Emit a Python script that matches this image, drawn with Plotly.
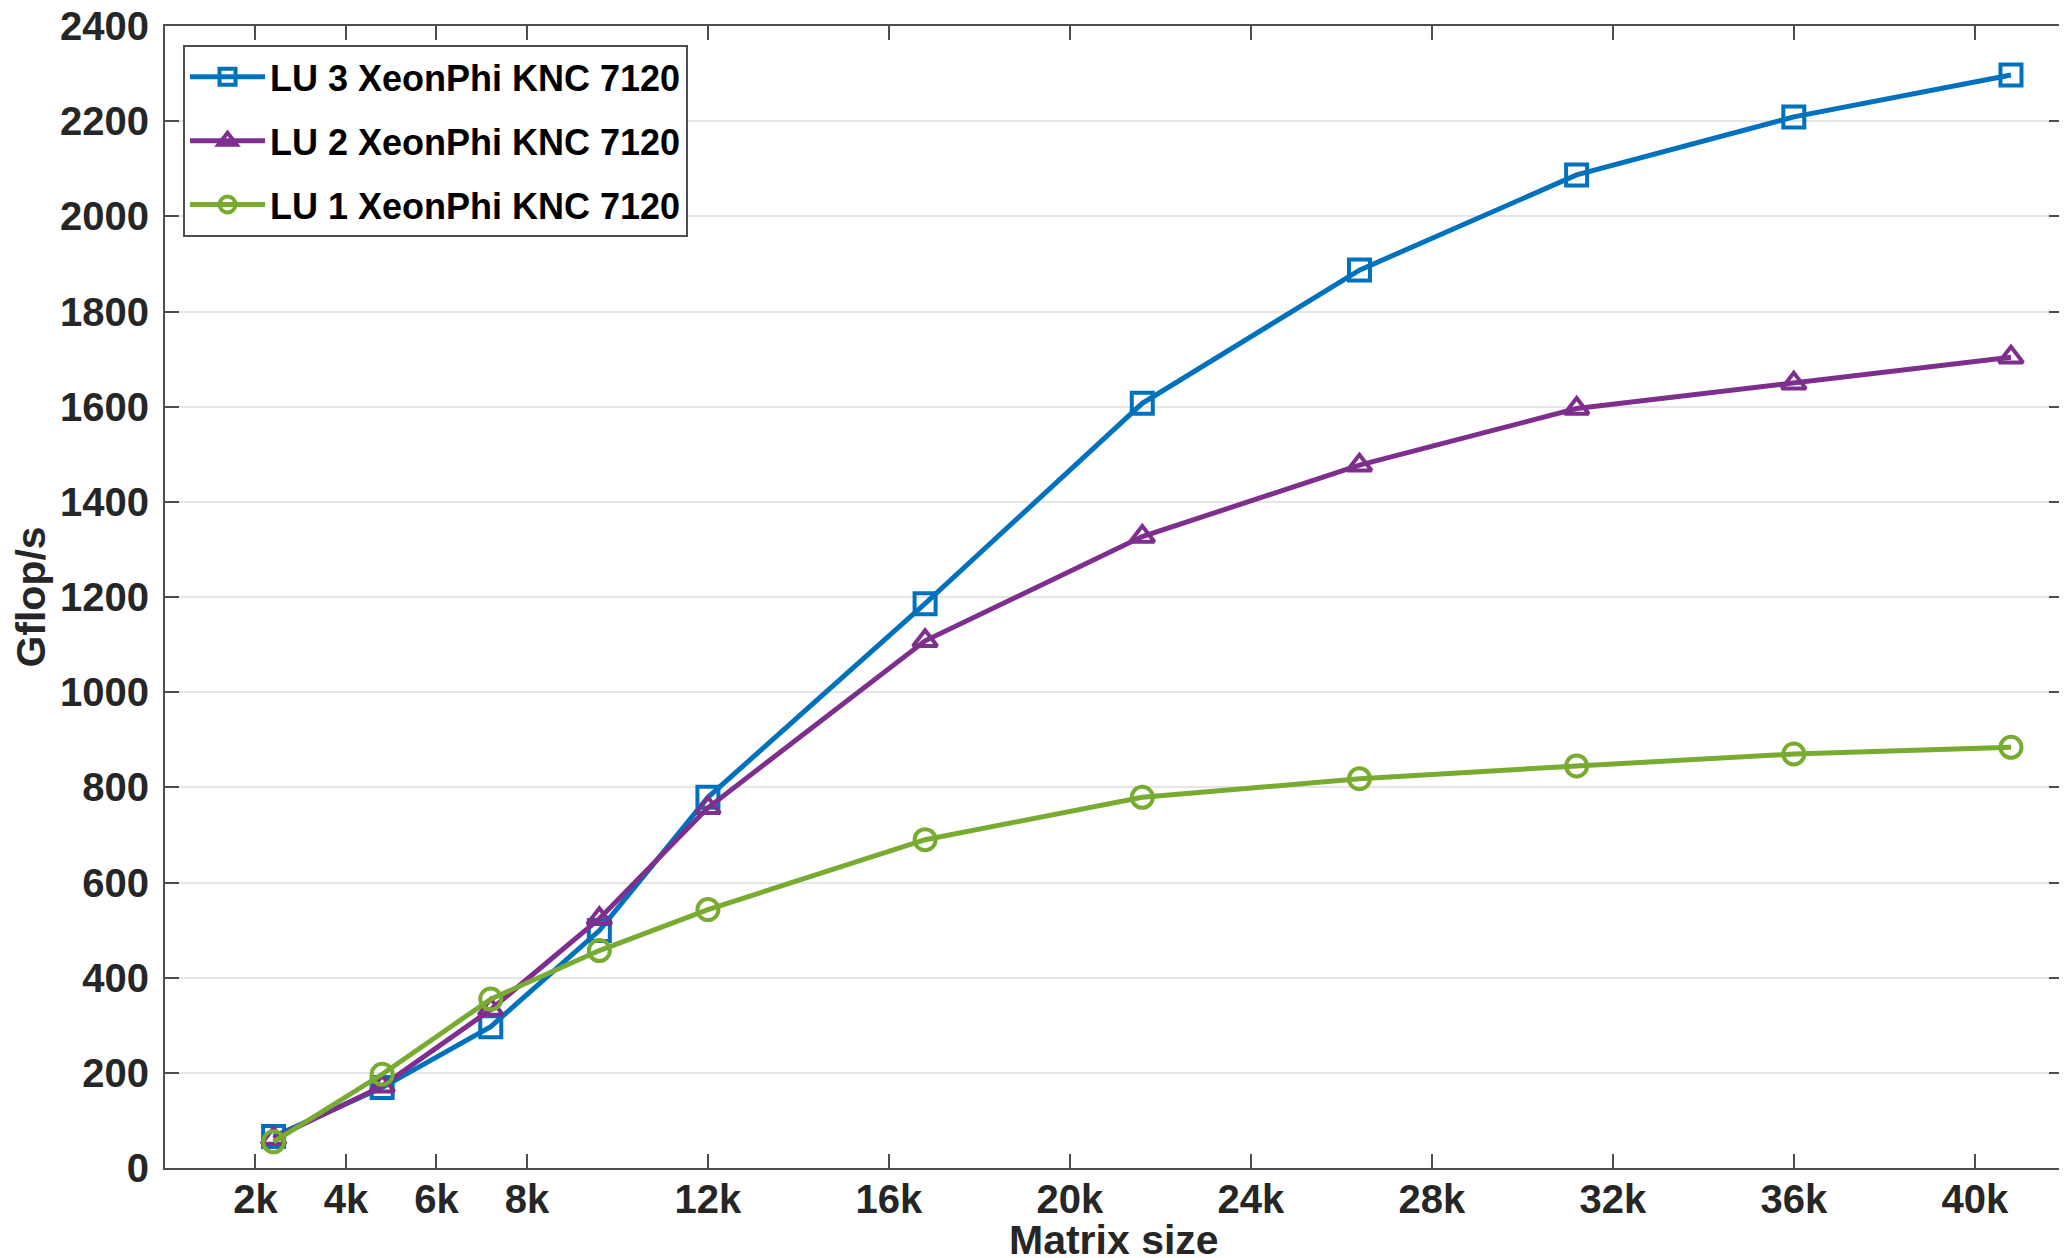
import plotly.graph_objects as go

matrix_size_k = [2.4, 4.8, 7.2, 9.6, 12.0, 16.8, 21.6, 26.4, 31.2, 36.0, 40.8]
lu3 = [66, 169, 297, 499, 779, 1186, 1607, 1887, 2087, 2209, 2297]
lu2 = [62, 172, 333, 524, 757, 1108, 1327, 1477, 1596, 1649, 1704]
lu1 = [55, 197, 355, 457, 543, 690, 779, 818, 845, 870, 884]

x_tick_vals = [2, 4, 6, 8, 12, 16, 20, 24, 28, 32, 36, 40]
x_tick_text = ["2k", "4k", "6k", "8k", "12k", "16k", "20k", "24k", "28k", "32k", "36k", "40k"]
y_tick_vals = list(range(0, 2401, 200))

series = [
    ("LU 3 XeonPhi KNC 7120", lu3, "#0072BD", "square-open"),
    ("LU 2 XeonPhi KNC 7120", lu2, "#7E2F8E", "triangle-up-open"),
    ("LU 1 XeonPhi KNC 7120", lu1, "#77AC30", "circle-open"),
]

FONT = "Liberation Sans, Arial, sans-serif"
TXT = "#262626"

fig = go.Figure()
for i, (name, vals, color, sym) in enumerate(series):
    fig.add_trace(go.Scatter(
        x=matrix_size_k, y=vals, name=name, mode="lines+markers",
        legendgroup=f"g{i}",
        line=dict(color=color, width=5),
        marker=dict(symbol=sym, size=21, color=color, line=dict(width=4, color=color)),
    ))

axis_common = dict(
    showline=True, linecolor="#4d4d4d", linewidth=2, mirror="ticks",
    ticks="inside", ticklen=14, tickwidth=1.5, tickcolor="#4d4d4d",
    tickfont=dict(family=FONT, size=40, color=TXT, weight="bold"),
    zeroline=False, automargin=False, ticklabeloverflow="allow",
)

fig.update_xaxes(
    range=[0, 41.95], tickvals=x_tick_vals, ticktext=x_tick_text, showgrid=False,
    ticklabelstandoff=-5,
    **axis_common,
)
fig.update_yaxes(
    range=[0, 2400], tickvals=y_tick_vals, showgrid=True, gridcolor="#e6e6e6", gridwidth=1.5,
    ticklabelstandoff=6,
    title=dict(text="Gflop/s", font=dict(family=FONT, size=41, color=TXT, weight="bold"), standoff=6),
    **axis_common,
)

fig.add_annotation(
    text="Matrix size", xref="paper", yref="paper", x=0.5, y=0,
    xanchor="center", yanchor="middle", yshift=-72, showarrow=False,
    font=dict(family=FONT, size=41, color=TXT, weight="bold"),
)

fig.update_layout(
    width=2059, height=1250,
    margin=dict(l=157, r=4, t=18, b=90),
    plot_bgcolor="white", paper_bgcolor="white",
    legend=dict(
        x=0.0095, y=0.9834, xanchor="left", yanchor="top",
        bgcolor="white", bordercolor="#4d4d4d", borderwidth=2,
        font=dict(family=FONT, size=36, color="black", weight="bold"),
        itemwidth=75, traceorder="grouped", tracegroupgap=14,
    ),
    showlegend=True,
)

fig.write_html("out.html")
